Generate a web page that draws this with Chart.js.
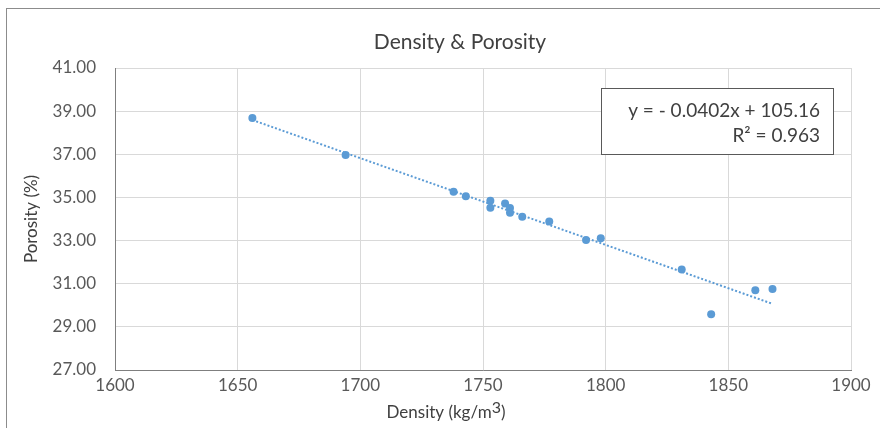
<!DOCTYPE html>
<html>
<head>
<meta charset="utf-8">
<script src="https://cdn.jsdelivr.net/npm/chart.js@4/dist/chart.umd.min.js"></script>
<style>
  html, body { margin: 0; padding: 0; background: #ffffff; overflow: hidden; }
  #wrap { position: absolute; left: 0; top: 0; width: 880px; height: 428px; }
</style>
</head>
<body>
<div id="wrap"><canvas id="c" width="880" height="428"></canvas></div>
<script>
// ---- data ----
const density = [1656, 1694, 1738, 1743, 1753, 1753, 1759, 1761, 1761, 1766, 1777, 1792, 1798, 1831, 1843, 1861, 1868];
const porosity = [38.68, 36.97, 35.26, 35.06, 34.85, 34.52, 34.72, 34.51, 34.29, 34.10, 33.88, 33.03, 33.11, 31.66, 29.59, 30.70, 30.76];
const trendSlope = -0.0402;
const trendIntercept = 105.16;
const equationLines = ["y = - 0.0402x + 105.16", "R² = 0.963"];
const chartTitle = "Density & Porosity";
const yTitle = "Porosity (%)";
const xTitleMain = "Density (kg/m";
const xTitleSup = "3";
const xTitleEnd = ")";
const xTicks = { min: 1600, max: 1900, step: 50 };
const yTicks = { min: 27, max: 41, step: 2 };

const FONT = "Lato, 'Open Sans', sans-serif";
const BLUE = "#5b9bd5";

const points = density.map((d, i) => ({ x: d, y: porosity[i] }));
const xMin = Math.min(...density), xMax = Math.max(...density);
const trend = [xMin, xMax].map(x => ({ x: x, y: trendSlope * x + trendIntercept }));

const decor = {
  id: 'decor',
  beforeDraw(chart) {
    const ctx = chart.ctx;
    ctx.save();
    ctx.fillStyle = '#ffffff';
    ctx.fillRect(0, 0, chart.width, chart.height);
    ctx.strokeStyle = '#8c8c8c';
    ctx.lineWidth = 1;
    ctx.strokeRect(6.5, 8.5, 1000, 1000);
    ctx.restore();
  },
  afterDraw(chart) {
    const ctx = chart.ctx;
    const ca = chart.chartArea;
    ctx.save();
    // title
    ctx.fillStyle = '#404040';
    ctx.font = "21px " + FONT;
    ctx.textAlign = 'center';
    ctx.textBaseline = 'middle';
    ctx.fillText(chartTitle, 460, 42);
    // y title
    ctx.font = "17px " + FONT;
    ctx.fillStyle = '#404040';
    ctx.save();
    ctx.translate(32, (ca.top + ca.bottom) / 2);
    ctx.rotate(-Math.PI / 2);
    ctx.fillText(yTitle, 0, 0);
    ctx.restore();
    // x title with superscript
    ctx.font = "17px " + FONT;
    const w1 = ctx.measureText(xTitleMain).width;
    const w3 = ctx.measureText(xTitleEnd).width;
    ctx.font = "16px " + FONT;
    const w2 = ctx.measureText(xTitleSup).width;
    const total = w1 + w2 + w3;
    let x0 = 446 - total / 2;
    const yx = 413;
    ctx.textAlign = 'left';
    ctx.font = "17px " + FONT;
    ctx.fillText(xTitleMain, x0, yx);
    ctx.font = "16px " + FONT;
    ctx.fillText(xTitleSup, x0 + w1, yx - 5);
    ctx.font = "17px " + FONT;
    ctx.fillText(xTitleEnd, x0 + w1 + w2, yx);
    // equation box
    ctx.fillStyle = '#ffffff';
    ctx.fillRect(601, 88, 233, 66);
    ctx.strokeStyle = '#595959';
    ctx.lineWidth = 1;
    ctx.strokeRect(601.5, 88.5, 232, 66);
    ctx.fillStyle = '#404040';
    ctx.font = "19px " + FONT;
    ctx.textAlign = 'right';
    ctx.fillText(equationLines[0], 820, 111);
    ctx.fillText(equationLines[1], 820, 136);
    ctx.restore();
  }
};

new Chart(document.getElementById('c'), {
  type: 'scatter',
  data: {
    datasets: [
      {
        label: 'data',
        data: points,
        backgroundColor: BLUE,
        borderColor: BLUE,
        pointRadius: 4,
        pointBorderWidth: 0,
        order: 1
      },
      {
        label: 'trend',
        data: trend,
        type: 'line',
        showLine: true,
        borderColor: BLUE,
        borderWidth: 2,
        borderDash: [2, 2],
        pointRadius: 0,
        fill: false,
        order: 2
      }
    ]
  },
  options: {
    responsive: false,
    animation: false,
    devicePixelRatio: 1,
    layout: { padding: { left: 0, top: 68, right: 29, bottom: 0 } },
    plugins: { legend: { display: false }, title: { display: false }, tooltip: { enabled: false } },
    scales: {
      x: {
        type: 'linear',
        min: xTicks.min, max: xTicks.max,
        afterFit(s) { s.height = 58; },
        ticks: { stepSize: xTicks.step, color: '#595959', font: { family: FONT, size: 17 }, padding: 5, maxRotation: 0,
                 callback: v => String(v) },
        grid: { color: '#d9d9d9', drawTicks: false },
        border: { color: '#7f7f7f', width: 1 }
      },
      y: {
        type: 'linear',
        min: yTicks.min, max: yTicks.max,
        afterFit(s) { s.width = 115; },
        ticks: { stepSize: yTicks.step, color: '#595959', font: { family: FONT, size: 17 }, padding: 19,
                 callback: v => Number(v).toFixed(2) },
        grid: { color: '#d9d9d9', drawTicks: false },
        border: { color: '#7f7f7f', width: 1 }
      }
    }
  },
  plugins: [decor]
});
</script>
</body>
</html>
